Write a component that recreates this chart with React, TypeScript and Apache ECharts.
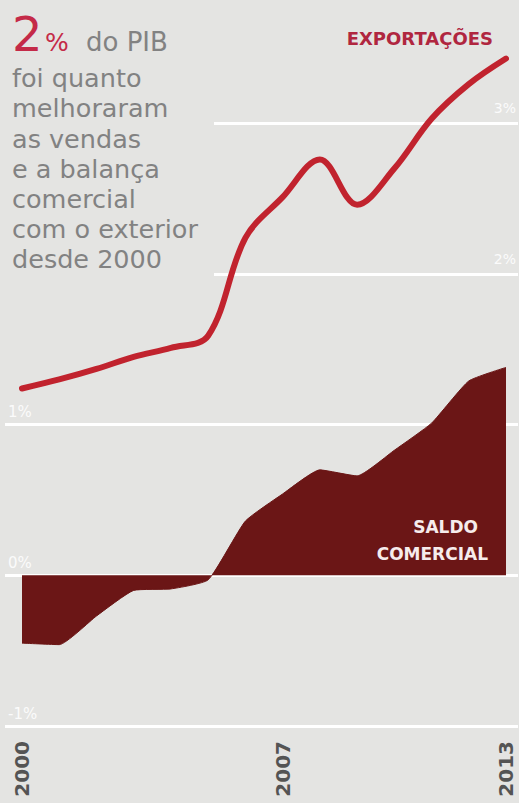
import React, { useEffect, useRef } from 'react';
import * as echarts from 'echarts';

const years = ['2000', '2001', '2002', '2003', '2004', '2005', '2006', '2007', '2008', '2009', '2010', '2011', '2012', '2013'];
const exportacoes = [1.24, 1.3, 1.37, 1.45, 1.51, 1.59, 2.24, 2.51, 2.76, 2.46, 2.7, 3.03, 3.26, 3.43];
const saldoComercial = [-0.45, -0.46, -0.27, -0.1, -0.09, -0.03, 0.36, 0.54, 0.7, 0.66, 0.83, 1.01, 1.29, 1.38];
const shownYears = ['2000', '2007', '2013'];
const leftTicks = [-1, 0, 1];
const rightTicks = [2, 3];
const textLines = ['foi quanto', 'melhoraram', 'as vendas', 'e a balança', 'comercial', 'com o exterior', 'desde 2000'];

const BG = '#e4e4e2';
const FONT = '"DejaVu Sans", Verdana, sans-serif';

export default function App() {
  const ref = useRef<HTMLDivElement>(null);
  useEffect(() => {
    const chart = echarts.init(ref.current!, null, { renderer: 'svg' });
    const top = 48;
    const bottom = 77;
    const yMin = -1;
    const yMax = 3.5;
    chart.setOption({
      animation: false,
      backgroundColor: BG,
      grid: [
        { left: 5, right: 0, top, bottom },
        { left: 22, right: 13, top, bottom },
      ],
      xAxis: [
        { type: 'category', gridIndex: 0, data: years, boundaryGap: false, show: false },
        {
          type: 'category',
          gridIndex: 1,
          data: years,
          boundaryGap: false,
          axisLine: { show: false },
          axisTick: { show: false },
          splitLine: { show: false },
          axisLabel: {
            interval: (i: number, v: string) => shownYears.includes(v),
            rotate: 90,
            margin: 15,
            color: '#545454',
            fontFamily: FONT,
            fontWeight: 'bold',
            fontSize: 20,
          },
        },
      ],
      yAxis: [
        {
          type: 'value',
          gridIndex: 0,
          position: 'left',
          min: yMin,
          max: yMax,
          interval: 1,
          axisLine: { show: false },
          axisTick: { show: false },
          splitLine: { show: true, showMaxLine: false, lineStyle: { color: '#ffffff', width: 3 } },
          axisLabel: {
            inside: true,
            margin: 3,
            verticalAlign: 'bottom',
            padding: [0, 0, 5, 0],
            color: '#fbfbfb',
            fontFamily: FONT,
            fontSize: 15,
            formatter: (v: number) => (leftTicks.includes(v) ? v + '%' : ''),
          },
        },
        {
          type: 'value',
          gridIndex: 0,
          position: 'right',
          min: yMin,
          max: yMax,
          interval: 1,
          axisLine: { show: false },
          axisTick: { show: false },
          splitLine: { show: false },
          axisLabel: {
            inside: true,
            margin: 2,
            verticalAlign: 'bottom',
            padding: [0, 0, 8, 0],
            color: '#fbfbfb',
            fontFamily: FONT,
            fontSize: 14,
            formatter: (v: number) => (rightTicks.includes(v) ? v + '%' : ''),
          },
        },
        { type: 'value', gridIndex: 1, min: yMin, max: yMax, show: false, splitLine: { show: false } },
      ],
      series: [
        {
          name: 'Saldo comercial',
          type: 'line',
          xAxisIndex: 1,
          yAxisIndex: 2,
          data: saldoComercial,
          smooth: 0.15,
          symbol: 'none',
          lineStyle: { width: 1, color: '#6b1616' },
          areaStyle: { color: '#6b1616', opacity: 1 },
          z: 3,
        },
        {
          name: 'Exportações',
          type: 'line',
          xAxisIndex: 1,
          yAxisIndex: 2,
          data: exportacoes,
          smooth: 0.35,
          symbol: 'none',
          lineStyle: { width: 6, color: '#c1232e', cap: 'round' },
          z: 4,
        },
      ],
      graphic: [
        { type: 'rect', z: 1, shape: { x: 0, y: 0, width: 214, height: 290 }, style: { fill: BG } },
        {
          type: 'text', z: 5, x: 12, y: 34,
          style: { text: '2', fill: '#c42a48', font: `48px ${FONT}`, verticalAlign: 'middle' },
        },
        {
          type: 'text', z: 5, x: 45, y: 42,
          style: { text: '%', fill: '#c42a48', font: `25px ${FONT}`, verticalAlign: 'middle' },
        },
        {
          type: 'text', z: 5, x: 86, y: 42,
          style: { text: 'do PIB', fill: '#828282', font: `26px ${FONT}`, verticalAlign: 'middle' },
        },
        {
          type: 'text', z: 5, x: 12, y: 63,
          style: { text: textLines.join('\n'), fill: '#828282', font: `25.5px ${FONT}`, lineHeight: 30.2, verticalAlign: 'top' },
        },
        {
          type: 'text', z: 5, x: 493, y: 38,
          style: { text: 'EXPORTAÇÕES', fill: '#b0263f', font: `bold 18px ${FONT}`, align: 'right', verticalAlign: 'middle' },
        },
        {
          type: 'text', z: 5, x: 478, y: 527,
          style: { text: 'SALDO', fill: '#f6ecec', font: `bold 17px ${FONT}`, align: 'right', verticalAlign: 'middle' },
        },
        {
          type: 'text', z: 5, x: 488, y: 554,
          style: { text: 'COMERCIAL', fill: '#f6ecec', font: `bold 17px ${FONT}`, align: 'right', verticalAlign: 'middle' },
        },
      ],
    });
    return () => chart.dispose();
  }, []);
  return <div ref={ref} style={{ position: 'fixed', left: 0, top: 0, width: 519, height: 803 }} />;
}
